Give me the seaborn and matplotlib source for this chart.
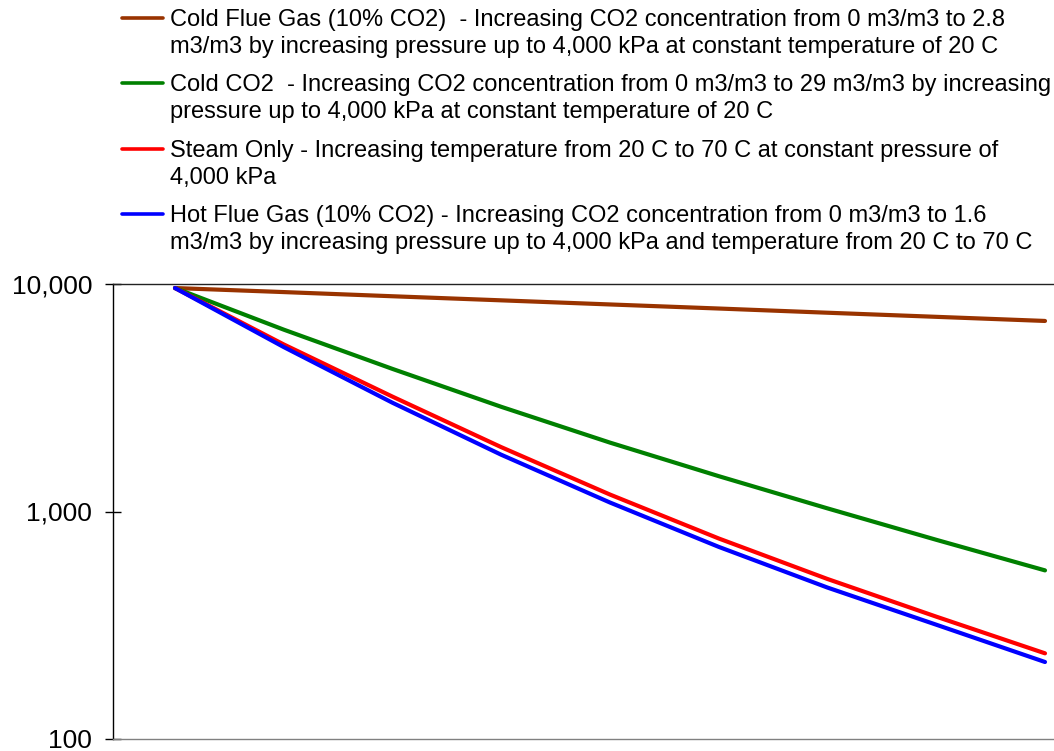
import numpy as np
import pandas as pd
import matplotlib
matplotlib.use("Agg")
import matplotlib.pyplot as plt
import matplotlib.ticker as mticker
from matplotlib.lines import Line2D
import seaborn as sns

# step along the injection path (no x labels in the original)
steps = [0, 1, 2, 3, 4, 5, 6, 7, 8]

cold_flue_gas = [9600, 9215, 8834, 8476, 8130, 7802, 7477, 7173, 6880]
cold_co2 = [9600, 6300, 4234, 2885, 2008, 1430, 1032, 751, 551]
steam_only = [9600, 5424, 3198, 1918, 1187, 761, 505, 345, 238]
hot_flue_gas = [9600, 5282, 3006, 1776, 1095, 699, 463, 318, 218]

series_names = [
    "Cold Flue Gas (10% CO2)  - Increasing CO2 concentration from 0 m3/m3 to 2.8\n"
    "m3/m3 by increasing pressure up to 4,000 kPa at constant temperature of 20 C",
    "Cold CO2  - Increasing CO2 concentration from 0 m3/m3 to 29 m3/m3 by increasing\n"
    "pressure up to 4,000 kPa at constant temperature of 20 C",
    "Steam Only - Increasing temperature from 20 C to 70 C at constant pressure of\n"
    "4,000 kPa",
    "Hot Flue Gas (10% CO2) - Increasing CO2 concentration from 0 m3/m3 to 1.6\n"
    "m3/m3 by increasing pressure up to 4,000 kPa and temperature from 20 C to 70 C",
]
colors = ["#993300", "#008000", "#FF0000", "#0000FF"]

df = pd.concat([
    pd.DataFrame({"step": steps, "value": vals, "series": name})
    for name, vals in zip(series_names, [cold_flue_gas, cold_co2, steam_only, hot_flue_gas])
])

sns.set_style("white")
plt.rcParams["font.family"] = ["Liberation Sans", "DejaVu Sans"]
plt.rcParams["text.color"] = "black"

W, H = 1054, 751
fig = plt.figure(figsize=(W / 100, H / 100), dpi=100)
ax = fig.add_axes([113 / W, 12 / H, (1056 - 113) / W, 455 / H])

sns.lineplot(data=df, x="step", y="value", hue="series", palette=colors,
             linewidth=3, legend=False, ax=ax, solid_capstyle="round")

ax.set_yscale("log")
ax.set_ylim(100, 10000)
px = (1045 - 175) / 8
ax.set_xlim(-(175 - 113) / px, 8 + (1056 - 1045) / px)
ax.yaxis.set_major_locator(mticker.FixedLocator([100, 1000, 10000]))
ax.yaxis.set_minor_locator(mticker.NullLocator())
ax.yaxis.set_major_formatter(mticker.FuncFormatter(lambda v, p: f"{int(v):,}"))
ax.set_xticks([])
ax.set_xlabel("")
ax.set_ylabel("")
ax.tick_params(axis="y", direction="inout", length=11, width=1, labelsize=19,
               pad=9.5, left=True, colors="black", labelcolor="black")

for s in ["left", "top", "bottom"]:
    ax.spines[s].set_visible(True)
    ax.spines[s].set_linewidth(1)
ax.spines["left"].set_color("black")
ax.spines["top"].set_color("#222222")
ax.spines["bottom"].set_color("#808080")
ax.spines["right"].set_visible(False)

# legend drawn above the plot, handle next to the first line of each entry
handle_y = [18, 83, 149, 214]
for name, c, hy in zip(series_names, colors, handle_y):
    fig.add_artist(Line2D([122 / W, 163 / W], [1 - hy / H, 1 - hy / H],
                          color=c, linewidth=2.6, transform=fig.transFigure))
    fig.text(170 / W, 1 - (hy - 9) / H, name, fontsize=17, va="top", ha="left",
             linespacing=1.28, color="black")

fig.savefig("out.png", dpi=100)
